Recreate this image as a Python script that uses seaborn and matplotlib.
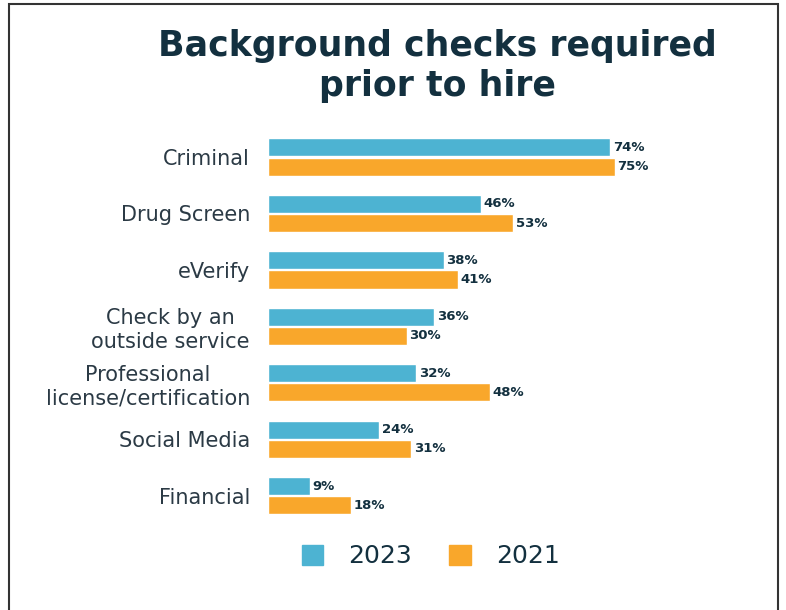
import matplotlib
matplotlib.use('Agg')
import matplotlib.pyplot as plt
import matplotlib.patches as mpatches
import pandas as pd
import seaborn as sns

checks = ['Criminal', 'Drug Screen', 'eVerify', 'Check by an\noutside service',
          'Professional\nlicense/certification', 'Social Media', 'Financial']
years = ['2023', '2021']
vals_2023 = [74, 46, 38, 36, 32, 24, 9]
vals_2021 = [75, 53, 41, 30, 48, 31, 18]
colors = ['#4DB3D2', '#F9A72B']
text_dark = '#13303F'

sns.set_theme(style='white')
plt.rcParams['font.family'] = ['DejaVu Sans']

df = pd.DataFrame({
    'check': checks * 2,
    'year': [years[0]] * len(checks) + [years[1]] * len(checks),
    'value': vals_2023 + vals_2021,
})

fig = plt.figure(figsize=(7.86, 6.10), dpi=100)
ax = fig.add_axes([0.341, 0.141, 0.60, 0.648])

sns.barplot(data=df, y='check', x='value', hue='year', orient='h',
            palette=colors, saturation=1, width=0.68, gap=0.06, order=checks,
            hue_order=years, legend=False, ax=ax)

for c in ax.containers:
    ax.bar_label(c, fmt='%d%%', padding=2, fontsize=9.5, fontweight='bold',
                 color=text_dark)

ax.set_xlim(0, 102)
ax.set_ylim(6.5, -0.5)
ax.set_xlabel('')
ax.set_ylabel('')
ax.set_xticks([])
sns.despine(ax=ax, left=True, bottom=True)
ax.tick_params(axis='y', length=0, pad=13)
for lbl in ax.get_yticklabels():
    lbl.set_fontsize(15)
    lbl.set_color('#2B3A45')
    lbl.set_multialignment('center')

fig.text(0.557, 0.892, 'Background checks required\nprior to hire', ha='center',
         va='center', fontsize=25, fontweight='bold', color=text_dark,
         linespacing=1.2)

handles = [mpatches.Patch(color=colors[i], label=years[i]) for i in range(2)]
fig.legend(handles=handles, loc='center', bbox_to_anchor=(0.548, 0.088), ncol=2,
           frameon=False, fontsize=18, handlelength=0.85, handleheight=0.85,
           handletextpad=1.0, columnspacing=1.5, labelcolor=text_dark)

fig.patches.append(mpatches.Rectangle((0.011, -0.01), 0.979, 1.003, fill=False,
                                      edgecolor='#333333', linewidth=1.5,
                                      transform=fig.transFigure))

fig.savefig('out.png', dpi=100)
